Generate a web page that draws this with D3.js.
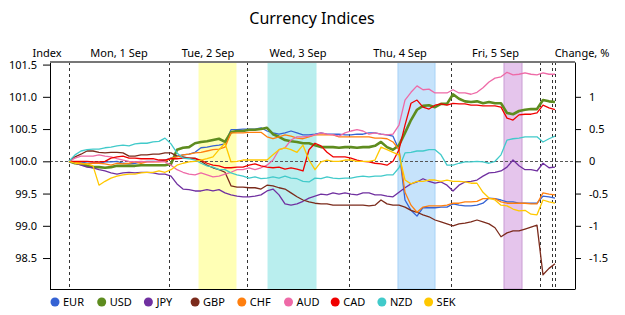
<!DOCTYPE html>
<html>
<head>
<meta charset="utf-8">
<script src="https://cdn.jsdelivr.net/npm/d3@7"></script>
<style>
  body { margin: 0; background: #fff; }
  svg text { font-family: "Noto Sans", "Open Sans", sans-serif; fill: #000; }
</style>
</head>
<body>
<div id="chart"></div>
<script>
// change in % from the start of the week, one sample per step
var currencies = ['EUR', 'USD', 'JPY', 'GBP', 'CHF', 'AUD', 'CAD', 'NZD', 'SEK'];

var eur = [0.00,-0.01,-0.01,-0.03,-0.03,-0.03,-0.01,-0.01,0.00,-0.03,
  -0.04,-0.03,-0.01,0.00,0.00,0.00,0.02,0.05,0.08,0.10,
  0.11,0.14,0.21,0.22,0.24,0.25,0.27,0.49,0.49,0.50,
  0.50,0.50,0.52,0.47,0.44,0.42,0.44,0.47,0.44,0.41,
  0.41,0.42,0.44,0.42,0.42,0.42,0.41,0.41,0.42,0.42,
  0.44,0.44,0.42,0.41,0.39,0.18,-0.60,-0.76,-0.85,-0.72,
  -0.72,-0.72,-0.71,-0.71,-0.66,-0.68,-0.69,-0.69,-0.68,-0.65,
  -0.57,-0.58,-0.60,-0.63,-0.63,-0.65,-0.65,-0.65,-0.65,-0.54,
  -0.55,-0.57];
var usd = [0.00,-0.03,-0.04,-0.07,-0.09,-0.09,-0.10,-0.09,-0.07,-0.07,
  -0.07,-0.07,-0.06,-0.06,-0.06,-0.06,-0.06,-0.04,0.18,0.21,
  0.22,0.28,0.30,0.31,0.33,0.35,0.30,0.45,0.47,0.47,
  0.49,0.49,0.50,0.52,0.42,0.38,0.33,0.31,0.30,0.28,
  0.28,0.25,0.22,0.22,0.22,0.21,0.22,0.22,0.21,0.22,
  0.22,0.24,0.30,0.22,0.18,0.25,0.44,0.64,0.80,0.86,
  0.87,0.84,0.89,0.89,1.04,0.97,0.93,0.92,0.93,0.90,
  0.92,0.90,0.90,0.75,0.73,0.78,0.80,0.81,0.81,0.95,
  0.93,0.92];
var jpy = [0.00,-0.03,-0.06,-0.09,-0.10,-0.13,-0.15,-0.18,-0.20,-0.18,
  -0.17,-0.18,-0.17,-0.17,-0.18,-0.20,-0.20,-0.23,-0.35,-0.43,
  -0.44,-0.46,-0.46,-0.44,-0.46,-0.44,-0.49,-0.52,-0.54,-0.55,
  -0.55,-0.54,-0.52,-0.46,-0.43,-0.52,-0.66,-0.68,-0.66,-0.62,
  -0.57,-0.54,-0.51,-0.52,-0.49,-0.51,-0.49,-0.51,-0.52,-0.49,
  -0.49,-0.52,-0.52,-0.54,-0.55,-0.48,-0.41,-0.35,-0.32,-0.27,
  -0.31,-0.34,-0.32,-0.37,-0.46,-0.37,-0.32,-0.31,-0.29,-0.23,
  -0.18,-0.17,-0.15,-0.09,0.02,-0.07,-0.13,-0.13,-0.15,-0.03,
  -0.10,-0.09];
var gbp = [0.00,0.07,0.11,0.16,0.16,0.14,0.13,0.14,0.14,0.13,
  0.08,0.08,0.10,0.10,0.11,0.11,0.13,0.13,0.08,0.07,
  0.05,0.05,0.00,-0.06,-0.10,-0.13,-0.17,-0.38,-0.40,-0.40,
  -0.41,-0.41,-0.43,-0.37,-0.38,-0.41,-0.43,-0.49,-0.55,-0.60,
  -0.63,-0.65,-0.66,-0.66,-0.68,-0.68,-0.68,-0.68,-0.68,-0.68,
  -0.69,-0.68,-0.60,-0.66,-0.68,-0.68,-0.71,-0.76,-0.79,-0.83,
  -0.86,-0.91,-0.94,-0.97,-1.00,-0.97,-0.96,-0.94,-0.91,-0.94,
  -0.97,-1.03,-1.17,-1.11,-1.08,-1.08,-1.05,-1.02,-0.99,-1.76,
  -1.66,-1.59];
var chf = [0.00,-0.01,-0.03,-0.04,-0.03,-0.03,-0.04,-0.06,-0.03,-0.04,
  -0.03,-0.01,-0.03,-0.01,-0.01,-0.01,0.00,0.05,0.07,0.10,
  0.11,0.13,0.14,0.16,0.18,0.19,0.22,0.44,0.44,0.44,
  0.45,0.45,0.45,0.38,0.35,0.38,0.41,0.39,0.36,0.35,
  0.38,0.41,0.41,0.41,0.41,0.38,0.38,0.38,0.38,0.38,
  0.38,0.36,0.36,0.35,0.30,0.18,-0.48,-0.68,-0.79,-0.71,
  -0.69,-0.69,-0.69,-0.68,-0.65,-0.65,-0.63,-0.63,-0.62,-0.58,
  -0.58,-0.58,-0.63,-0.65,-0.65,-0.65,-0.65,-0.66,-0.66,-0.49,
  -0.51,-0.52];
var aud = [0.00,0.05,0.08,0.08,0.08,0.10,0.08,0.07,0.04,0.02,
  0.00,-0.01,0.00,-0.01,-0.01,0.00,-0.01,-0.06,-0.13,-0.17,
  -0.20,-0.21,-0.18,-0.21,-0.24,-0.23,-0.20,-0.17,-0.13,-0.13,
  -0.10,-0.13,-0.10,-0.06,0.02,0.18,0.21,0.33,0.38,0.38,
  0.39,0.41,0.44,0.42,0.41,0.39,0.44,0.47,0.49,0.47,
  0.42,0.44,0.42,0.41,0.42,0.56,0.95,1.07,1.17,1.11,
  1.12,1.06,1.06,1.06,1.11,1.06,1.06,1.04,1.07,1.14,
  1.23,1.29,1.31,1.38,1.34,1.35,1.37,1.35,1.34,1.37,
  1.35,1.35];
var cad = [0.00,0.00,0.00,0.00,-0.01,-0.01,0.00,0.05,0.07,0.08,
  0.05,0.05,0.04,0.04,0.04,0.02,0.02,0.04,0.04,0.05,
  0.05,0.04,0.02,-0.03,-0.06,-0.07,-0.10,-0.10,-0.09,-0.09,
  -0.06,-0.04,-0.07,-0.09,-0.10,-0.09,-0.12,-0.10,-0.12,-0.15,
  0.18,0.28,0.24,0.14,0.07,0.07,0.07,0.05,0.02,0.00,
  -0.01,-0.03,-0.04,-0.06,0.00,0.18,0.56,0.90,0.95,0.84,
  0.81,0.87,0.89,0.87,0.90,0.89,0.89,0.87,0.87,0.86,
  0.86,0.86,0.84,0.67,0.64,0.72,0.73,0.73,0.75,0.87,
  0.83,0.80];
var nzd = [0.00,0.10,0.16,0.18,0.19,0.19,0.21,0.22,0.24,0.25,
  0.24,0.27,0.28,0.28,0.30,0.31,0.36,0.27,0.13,0.05,
  0.04,0.02,-0.03,-0.07,-0.09,-0.13,-0.13,-0.18,-0.21,-0.23,
  -0.26,-0.24,-0.27,-0.26,-0.24,-0.26,-0.23,-0.26,-0.27,-0.31,
  -0.32,-0.26,-0.27,-0.24,-0.26,-0.27,-0.26,-0.26,-0.24,-0.23,
  -0.24,-0.23,-0.23,-0.21,-0.21,-0.10,0.13,0.14,0.16,0.16,
  0.18,0.18,0.10,-0.06,-0.06,-0.03,-0.01,-0.01,0.00,-0.01,
  -0.03,0.00,0.10,0.33,0.35,0.36,0.38,0.38,0.38,0.30,
  0.35,0.39];
var sek = [0.00,-0.03,-0.04,-0.04,-0.07,-0.37,-0.31,-0.26,-0.23,-0.21,
  -0.20,-0.20,-0.18,-0.17,-0.17,-0.15,-0.17,-0.13,-0.06,-0.03,
  -0.01,0.00,0.02,0.04,0.07,0.18,0.28,-0.01,0.00,0.02,
  0.02,0.02,0.02,0.02,0.10,0.18,0.21,0.18,0.14,0.25,
  0.02,-0.13,-0.01,0.02,0.00,0.00,0.02,0.02,0.00,0.00,
  0.00,0.02,0.22,0.18,0.14,0.10,-0.29,-0.35,-0.31,-0.31,
  -0.29,-0.29,-0.31,-0.29,-0.31,-0.31,-0.32,-0.34,-0.34,-0.48,
  -0.57,-0.60,-0.68,-0.69,-0.74,-0.77,-0.76,-0.82,-0.83,-0.60,
  -0.63,-0.65];

var series_values = [eur, usd, jpy, gbp, chf, aud, cad, nzd, sek];
var colors = ['#3563d4', '#5e8c1f', '#7030a0', '#7b2b1c', '#ff7f0e', '#ee6aa7', '#f00000', '#41caca', '#ffc800'];

// day boundaries and extra session markers, in steps
var day_labels = ['Mon, 1 Sep', 'Tue, 2 Sep', 'Wed, 3 Sep', 'Thu, 4 Sep', 'Fri, 5 Sep'];
var day_starts = [0, 16.67, 29.67, 46.67, 63.67, 78.5];
var extra_marks = [80.5, 81];

// highlighted periods, in steps
var band_starts = [21.67, 33.17, 54.83, 72.5];
var band_ends = [27.83, 41.17, 61, 75.5];
var band_fills = ['#ffffb5', '#b9eeee', '#c6e3fb', '#e5c5ec'];
var band_edges = ['#ffffb5', '#b9eeee', '#a7d2f6', '#c99cd3'];

var index_ticks = [98.5, 99.0, 99.5, 100.0, 100.5, 101.0, 101.5];
var change_ticks = [-1.5, -1, -0.5, 0, 0.5, 1];

var chart_width = 625;
var chart_height = 315;
var plot_left = 50, plot_right = 575, plot_top = 62, plot_bottom = 289;

var svg = d3.select('#chart')
    .append('svg')
    .attr('width', chart_width)
    .attr('height', chart_height);

var steps = d3.range(eur.length);

var x_scale = d3.scaleLinear()
    .domain([0, steps.length - 1])
    .range([69, 555]);

var y_change = d3.scaleLinear()
    .domain([-1.98, 1.54])
    .range([plot_bottom, plot_top]);

var y_index = d3.scaleLinear()
    .domain([98.02, 101.54])
    .range([plot_bottom, plot_top]);

// Title
svg.append('text')
    .attr('x', 312)
    .attr('y', 24)
    .attr('text-anchor', 'middle')
    .attr('font-size', 16)
    .text('Currency Indices');

// Bands
svg.selectAll('rect.band')
    .data(band_starts)
    .enter()
    .append('rect')
    .attr('class', 'band')
    .attr('x', function(d) { return x_scale(d); })
    .attr('y', plot_top)
    .attr('width', function(d, i) { return x_scale(band_ends[i]) - x_scale(d); })
    .attr('height', plot_bottom - plot_top)
    .attr('fill', function(d, i) { return band_fills[i]; })
    .attr('stroke', function(d, i) { return band_edges[i]; })
    .attr('stroke-width', 1);

// Vertical dashed lines
svg.selectAll('line.vmark')
    .data(day_starts.concat(extra_marks))
    .enter()
    .append('line')
    .attr('class', 'vmark')
    .attr('x1', function(d) { return Math.round(x_scale(d)) + 0.5; })
    .attr('x2', function(d) { return Math.round(x_scale(d)) + 0.5; })
    .attr('y1', plot_top)
    .attr('y2', plot_bottom)
    .attr('stroke', '#333')
    .attr('stroke-width', 1)
    .attr('stroke-dasharray', '3,3');

// zero line
svg.append('line')
    .attr('x1', plot_left)
    .attr('x2', plot_right)
    .attr('y1', Math.round(y_change(0)) + 0.5)
    .attr('y2', Math.round(y_change(0)) + 0.5)
    .attr('stroke', '#555')
    .attr('stroke-dasharray', '3,2');

// Day labels
svg.selectAll('text.day')
    .data(day_labels)
    .enter()
    .append('text')
    .attr('class', 'day')
    .attr('x', function(d, i) { return (x_scale(day_starts[i]) + x_scale(day_starts[i + 1])) / 2; })
    .attr('y', 57)
    .attr('text-anchor', 'middle')
    .attr('font-size', 11)
    .text(function(d) { return d; });

svg.append('text').attr('x', 47).attr('y', 57).attr('text-anchor', 'middle')
    .attr('font-size', 11).text('Index');
svg.append('text').attr('x', 582).attr('y', 57).attr('text-anchor', 'middle')
    .attr('font-size', 11).text('Change, %');

// Lines
svg.append('clipPath').attr('id', 'plot')
    .append('rect').attr('x', plot_left).attr('y', plot_top)
    .attr('width', plot_right - plot_left).attr('height', plot_bottom - plot_top);

var line = d3.line()
    .x(function(d, i) { return x_scale(steps[i]); })
    .y(function(d) { return y_change(d); });

svg.append('g')
    .attr('clip-path', 'url(#plot)')
    .selectAll('path')
    .data(series_values)
    .enter()
    .append('path')
    .attr('d', line)
    .attr('fill', 'none')
    .attr('stroke', function(d, i) { return colors[i]; })
    .attr('stroke-width', function(d, i) { return currencies[i] == 'USD' ? 2.6 : 1.3; })
    .attr('stroke-linejoin', 'round');

// Axes
var left_axis = d3.axisLeft(y_index)
    .tickValues(index_ticks)
    .tickFormat(d3.format('.1f'))
    .tickSize(7)
    .tickSizeOuter(0);

var right_axis = d3.axisRight(y_change)
    .tickValues(change_ticks)
    .tickFormat(function(d) { return d; })
    .tickSize(6)
    .tickSizeOuter(0);

svg.append('g')
    .attr('transform', 'translate(' + plot_left + ',0)')
    .call(left_axis)
    .call(function(g) {
        g.selectAll('text').attr('font-size', 11).attr('dx', '-3');
        g.selectAll('line').attr('stroke', '#000');
    });

svg.append('g')
    .attr('transform', 'translate(' + plot_right + ',0)')
    .call(right_axis)
    .call(function(g) {
        g.selectAll('text').attr('font-size', 11).attr('dx', '5');
        g.selectAll('line').attr('stroke', '#000');
    });

// frame: black bottom, grey top
svg.append('line').attr('x1', plot_left).attr('x2', plot_right)
    .attr('y1', plot_bottom + 0.5).attr('y2', plot_bottom + 0.5)
    .attr('stroke', '#000');
svg.append('line').attr('x1', plot_left).attr('x2', plot_right)
    .attr('y1', plot_top).attr('y2', plot_top)
    .attr('stroke', '#777').attr('stroke-width', 2);

// Legend
var legend = svg.selectAll('g.legend')
    .data(currencies)
    .enter()
    .append('g')
    .attr('class', 'legend')
    .attr('transform', function(d, i) { return 'translate(' + (55 + i * 46.7) + ',302)'; });

legend.append('circle')
    .attr('r', 4.5)
    .attr('fill', function(d, i) { return colors[i]; });

legend.append('text')
    .attr('x', 8)
    .attr('y', 4)
    .attr('font-size', 11)
    .text(function(d) { return d; });
</script>
</body>
</html>
